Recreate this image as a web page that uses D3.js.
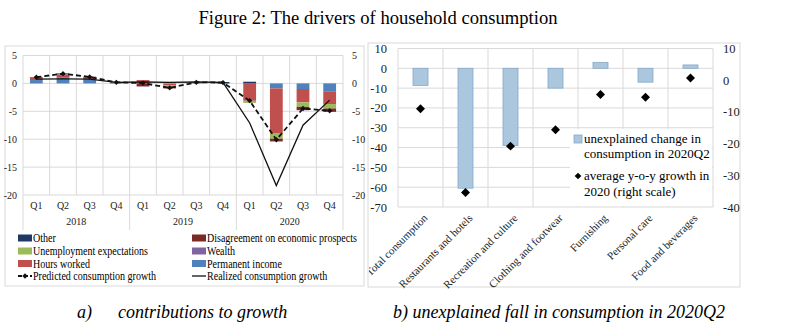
<!DOCTYPE html>
<html>
<head>
<meta charset="utf-8">
<script src="https://cdn.jsdelivr.net/npm/d3@7"></script>
<style>
    body { margin: 0; background: #fff; }
    svg { display: block; font-family: "Liberation Serif", "Times New Roman", serif; }
    .tick text { fill: #222; }
</style>
</head>
<body>
<div id="chart"></div>
<script>
//Datos panel a)
const quarters = ['Q1','Q2','Q3','Q4','Q1','Q2','Q3','Q4','Q1','Q2','Q3','Q4'];
const years = ['2018','2019','2020'];
const permanentIncome = [0.6, 1.0, 0.65, 0.0, 0.0, 0.0, 0.0, 0.0, 0.0, -0.9, -1.0, -1.5];
const hoursWorked = [0.4, 0.6, 0.4, -0.1, 0.6, -0.3, 0.15, 0.0, -3.1, -8.1, -2.4, -2.2];
const wealth = [0.05, 0.05, 0.05, 0.0, 0.0, 0.0, 0.0, 0.0, -0.05, 0.0, 0.0, 0.0];
const unemployment = [0.0, 0.0, 0.0, 0.2, 0.0, -0.3, 0.0, -0.1, -0.35, -0.9, -0.8, -0.8];
const disagreement = [0.1, 0.15, 0.1, 0.0, -0.55, -0.3, 0.0, 0.0, 0.0, -0.5, -0.6, -0.6];
const other = [0.0, 0.0, 0.0, 0.05, 0.0, 0.0, 0.05, 0.25, 0.3, 0.0, 0.0, 0.0];
const predicted = [1.1, 1.75, 1.15, 0.2, 0.05, -0.8, 0.2, 0.15, -3.1, -10.1, -4.5, -4.9];
const realized = [0.75, 0.8, 0.75, 0.2, 0.25, 0.2, 0.25, 0.2, -7.1, -18.3, -7.5, -3.0];
const leftTicks = [5, 0, -5, -10, -15, -20];

//Datos panel b)
const categories = ['Total consumption','Restaurants and hotels','Recreation and culture','Clothing and footwear','Furnishing','Personal care','Food and beverages'];
const unexplained = [-8.7, -60.5, -39, -10, 3, -7, 1.7];
const avgGrowth = [-9, -35.4, -20.8, -15.6, -4.5, -5.4, 0.7];
const rightTicksL = [10, 0, -10, -20, -30, -40, -50, -60, -70];
const rightTicksR = [10, 0, -10, -20, -30, -40];

//Colores
const GRID = '#d9d9d9';
const series = [
    {key: 'perm', name: 'Permanent income', values: permanentIncome, color: '#4f81bd'},
    {key: 'hours', name: 'Hours worked', values: hoursWorked, color: '#c0504d'},
    {key: 'wealth', name: 'Wealth', values: wealth, color: '#8064a2'},
    {key: 'unemp', name: 'Unemployment expectations', values: unemployment, color: '#9bbb59'},
    {key: 'disag', name: 'Disagreement on economic prospects', values: disagreement, color: '#7b2a27'},
    {key: 'other', name: 'Other', values: other, color: '#1f3864'}
];
const colorOf = {};
series.forEach(s => colorOf[s.key] = s.color);

let svg = d3.select('#chart').append('svg')
    .attr('width', 800)
    .attr('height', 332);

//Titulos
svg.append('text')
    .attr('x', 378).attr('y', 24)
    .attr('text-anchor', 'middle')
    .style('font-size', '18.6px')
    .text('Figure 2: The drivers of household consumption');

svg.append('text')
    .attr('x', 77).attr('y', 318)
    .style('font-size', '18px').style('font-style', 'italic')
    .text('a)');
svg.append('text')
    .attr('x', 118).attr('y', 318)
    .style('font-size', '18px').style('font-style', 'italic')
    .text('contributions to growth');

svg.append('text')
    .attr('x', 559).attr('y', 318)
    .attr('text-anchor', 'middle')
    .style('font-size', '18px').style('font-style', 'italic')
    .text('b) unexplained fall in consumption in 2020Q2');

//Marcos
svg.append('rect').attr('x', 5).attr('y', 46).attr('width', 359).attr('height', 240)
    .attr('fill', 'none').attr('stroke', GRID);
svg.append('rect').attr('x', 368).attr('y', 43).attr('width', 372).attr('height', 244)
    .attr('fill', 'none').attr('stroke', GRID);

/////
// Panel a)
/////
let gA = svg.append('g');

let x = d3.scaleBand().domain(d3.range(quarters.length)).range([23, 343]);
let y = d3.scaleLinear().domain([-20, 5]).range([195, 55.5]);
let bw = x.bandwidth() * 0.48;

//Rejilla
gA.selectAll('.hgrid').data(leftTicks).enter().append('line')
    .attr('x1', 23).attr('x2', 343)
    .attr('y1', d => y(d)).attr('y2', d => y(d))
    .attr('stroke', GRID);
gA.selectAll('.vgrid').data(d3.range(quarters.length + 1)).enter().append('line')
    .attr('x1', d => 23 + d * x.step()).attr('x2', d => 23 + d * x.step())
    .attr('y1', y(5)).attr('y2', y(-20))
    .attr('stroke', GRID);

//Ejes
gA.append('g').attr('transform', 'translate(23,0)')
    .call(d3.axisLeft(y).tickValues(leftTicks).tickFormat(d => String(d)).tickSize(0).tickPadding(6))
    .call(g => g.select('.domain').remove())
    .selectAll('text').style('font-size', '10px').style('font-family', 'Liberation Serif');

gA.append('g').attr('transform', 'translate(343,0)')
    .call(d3.axisRight(y).tickValues(leftTicks).tickFormat(d => String(d)).tickSize(0).tickPadding(9))
    .call(g => g.select('.domain').remove())
    .selectAll('text').style('font-size', '10px').style('font-family', 'Liberation Serif');

gA.append('g').attr('transform', 'translate(0,195)')
    .call(d3.axisBottom(x).tickFormat(i => quarters[i]).tickSize(0).tickPadding(7))
    .call(g => g.select('.domain').remove())
    .selectAll('text').style('font-size', '10px').style('font-family', 'Liberation Serif');

let xYear = d3.scaleBand().domain(years).range([23, 343]);
gA.append('g').attr('transform', 'translate(0,195)')
    .call(d3.axisBottom(xYear).tickSize(0).tickPadding(23))
    .call(g => g.select('.domain').remove())
    .selectAll('text').style('font-size', '10px').style('font-family', 'Liberation Serif');

gA.selectAll('.sep').data(d3.range(years.length + 1)).enter().append('line')
    .attr('x1', d => 23 + d * xYear.step()).attr('x2', d => 23 + d * xYear.step())
    .attr('y1', 195).attr('y2', 230)
    .attr('stroke', GRID);

//Barras apiladas
let rows = quarters.map((q, i) => {
    let r = {i: i};
    series.forEach(s => r[s.key] = s.values[i]);
    return r;
});
let stacked = d3.stack()
    .keys(series.map(s => s.key))
    .offset(d3.stackOffsetDiverging)(rows);

gA.selectAll('.layer').data(stacked).enter().append('g')
    .attr('fill', d => colorOf[d.key])
    .selectAll('rect').data(d => d).enter().append('rect')
    .attr('x', d => x(d.data.i) + (x.bandwidth() - bw) / 2)
    .attr('width', bw)
    .attr('y', d => y(Math.max(d[0], d[1])))
    .attr('height', d => Math.abs(y(d[0]) - y(d[1])));

//Lineas
let cx = i => x(i) + x.bandwidth() / 2;
gA.append('path').datum(realized)
    .attr('fill', 'none').attr('stroke', '#111').attr('stroke-width', 1.3)
    .attr('d', d3.line().x((d, i) => cx(i)).y(d => y(d)));

gA.append('path').datum(predicted)
    .attr('fill', 'none').attr('stroke', '#111').attr('stroke-width', 1.8)
    .attr('stroke-dasharray', '5,3')
    .attr('d', d3.line().x((d, i) => cx(i)).y(d => y(d)));

gA.selectAll('.mk').data(predicted).enter().append('path')
    .attr('d', d3.symbol(d3.symbolSquare, 14))
    .attr('transform', (d, i) => 'translate(' + cx(i) + ',' + y(d) + ') rotate(45)')
    .attr('fill', '#111');

//Leyenda panel a)
const legendRows = [
    [{key: 'other'}, {key: 'disag'}],
    [{key: 'unemp'}, {key: 'wealth'}],
    [{key: 'hours'}, {key: 'perm'}],
    [{line: 'pred', name: 'Predicted consumption growth'}, {line: 'real', name: 'Realized consumption growth'}]
];
const legendX = [18, 192];
const legendY = [238, 251, 263.5, 276];

legendRows.forEach((row, r) => {
    row.forEach((item, c) => {
        let lg = gA.append('g').attr('transform', 'translate(' + legendX[c] + ',' + legendY[r] + ')');
        let label;
        if (item.key) {
            let s = series.find(d => d.key == item.key);
            lg.append('rect').attr('x', 0).attr('y', -3.5).attr('width', 14).attr('height', 7).attr('fill', s.color);
            label = s.name;
        } else {
            lg.append('line').attr('x1', 0).attr('x2', 14).attr('y1', 0).attr('y2', 0)
                .attr('stroke', '#111')
                .attr('stroke-width', item.line == 'pred' ? 1.8 : 1.3)
                .attr('stroke-dasharray', item.line == 'pred' ? '4,2' : null);
            if (item.line == 'pred') {
                lg.append('path').attr('d', d3.symbol(d3.symbolSquare, 14)())
                    .attr('transform', 'translate(7,0) rotate(45)').attr('fill', '#111');
            }
            label = item.name;
        }
        //Texto algo estrecho como en el original
        lg.append('text').attr('dy', '.35em')
            .attr('transform', 'translate(15,0) scale(0.85,1)')
            .style('font-size', '11.8px')
            .text(label);
    });
});

/////
// Panel b)
/////
let gB = svg.append('g');

let xb = d3.scaleBand().domain(categories).range([398, 713]);
let yb = d3.scaleLinear().domain([-70, 10]).range([207, 48.5]);
let yb2 = d3.scaleLinear().domain([-40, 10]).range([207, 48.5]);

gB.selectAll('.hgrid').data(rightTicksL).enter().append('line')
    .attr('x1', 398).attr('x2', 713)
    .attr('y1', d => yb(d)).attr('y2', d => yb(d))
    .attr('stroke', GRID);
gB.selectAll('.vgrid').data(d3.range(categories.length + 1)).enter().append('line')
    .attr('x1', d => 398 + d * xb.step()).attr('x2', d => 398 + d * xb.step())
    .attr('y1', yb(10)).attr('y2', yb(-70))
    .attr('stroke', GRID);

gB.append('g').attr('transform', 'translate(398,0)')
    .call(d3.axisLeft(yb).tickValues(rightTicksL).tickFormat(d => String(d)).tickSize(0).tickPadding(11))
    .call(g => g.select('.domain').remove())
    .selectAll('text').style('font-size', '12.5px').style('font-family', 'Liberation Serif');

gB.append('g').attr('transform', 'translate(713,0)')
    .call(d3.axisRight(yb2).tickValues(rightTicksR).tickFormat(d => String(d)).tickSize(0).tickPadding(10))
    .call(g => g.select('.domain').remove())
    .selectAll('text').style('font-size', '12.5px').style('font-family', 'Liberation Serif');

//Etiquetas rotadas
gB.append('g').attr('transform', 'translate(0,207)')
    .call(d3.axisBottom(xb).tickSize(0).tickPadding(0))
    .call(g => g.select('.domain').remove())
    .selectAll('text')
    .style('font-size', '11px').style('font-family', 'Liberation Serif')
    .attr('text-anchor', 'end')
    .attr('transform', 'translate(5,9) rotate(-45)')
    .attr('dy', '.35em');

//Clip para la etiqueta cortada
svg.append('defs').append('clipPath').attr('id', 'clipB')
    .append('rect').attr('x', 369).attr('y', 0).attr('width', 400).attr('height', 332);
gB.attr('clip-path', 'url(#clipB)');

let barW = 15;
gB.selectAll('.bar').data(unexplained).enter().append('rect')
    .attr('x', (d, i) => xb(categories[i]) + (xb.bandwidth() - barW) / 2)
    .attr('width', barW)
    .attr('y', d => yb(Math.max(0, d)))
    .attr('height', d => Math.abs(yb(d) - yb(0)))
    .attr('fill', '#abc7de')
    .attr('stroke', '#86a9c8')
    .attr('stroke-width', 0.8);

gB.selectAll('.dia').data(avgGrowth).enter().append('path')
    .attr('d', d3.symbol(d3.symbolSquare, 40))
    .attr('transform', (d, i) => 'translate(' + (xb(categories[i]) + xb.bandwidth() / 2) + ',' + yb2(d) + ') rotate(45)')
    .attr('fill', '#000');

//Leyenda panel b)
gB.append('rect').attr('x', 570).attr('y', 129).attr('width', 142).attr('height', 77).attr('fill', '#fff');
let lb = gB.append('g').style('font-size', '13px');
lb.append('rect').attr('x', 574).attr('y', 135).attr('width', 8).attr('height', 8)
    .attr('fill', '#abc7de').attr('stroke', '#86a9c8').attr('stroke-width', 0.8);
lb.append('text').attr('x', 584).attr('y', 143).text('unexplained change in');
lb.append('text').attr('x', 584).attr('y', 158).text('consumption in 2020Q2');
lb.append('path').attr('d', d3.symbol(d3.symbolSquare, 22)())
    .attr('transform', 'translate(578,176) rotate(45)').attr('fill', '#000');
lb.append('text').attr('x', 584).attr('y', 180).text('average y-o-y growth in');
lb.append('text').attr('x', 584).attr('y', 196).text('2020 (right scale)');
</script>
</body>
</html>
